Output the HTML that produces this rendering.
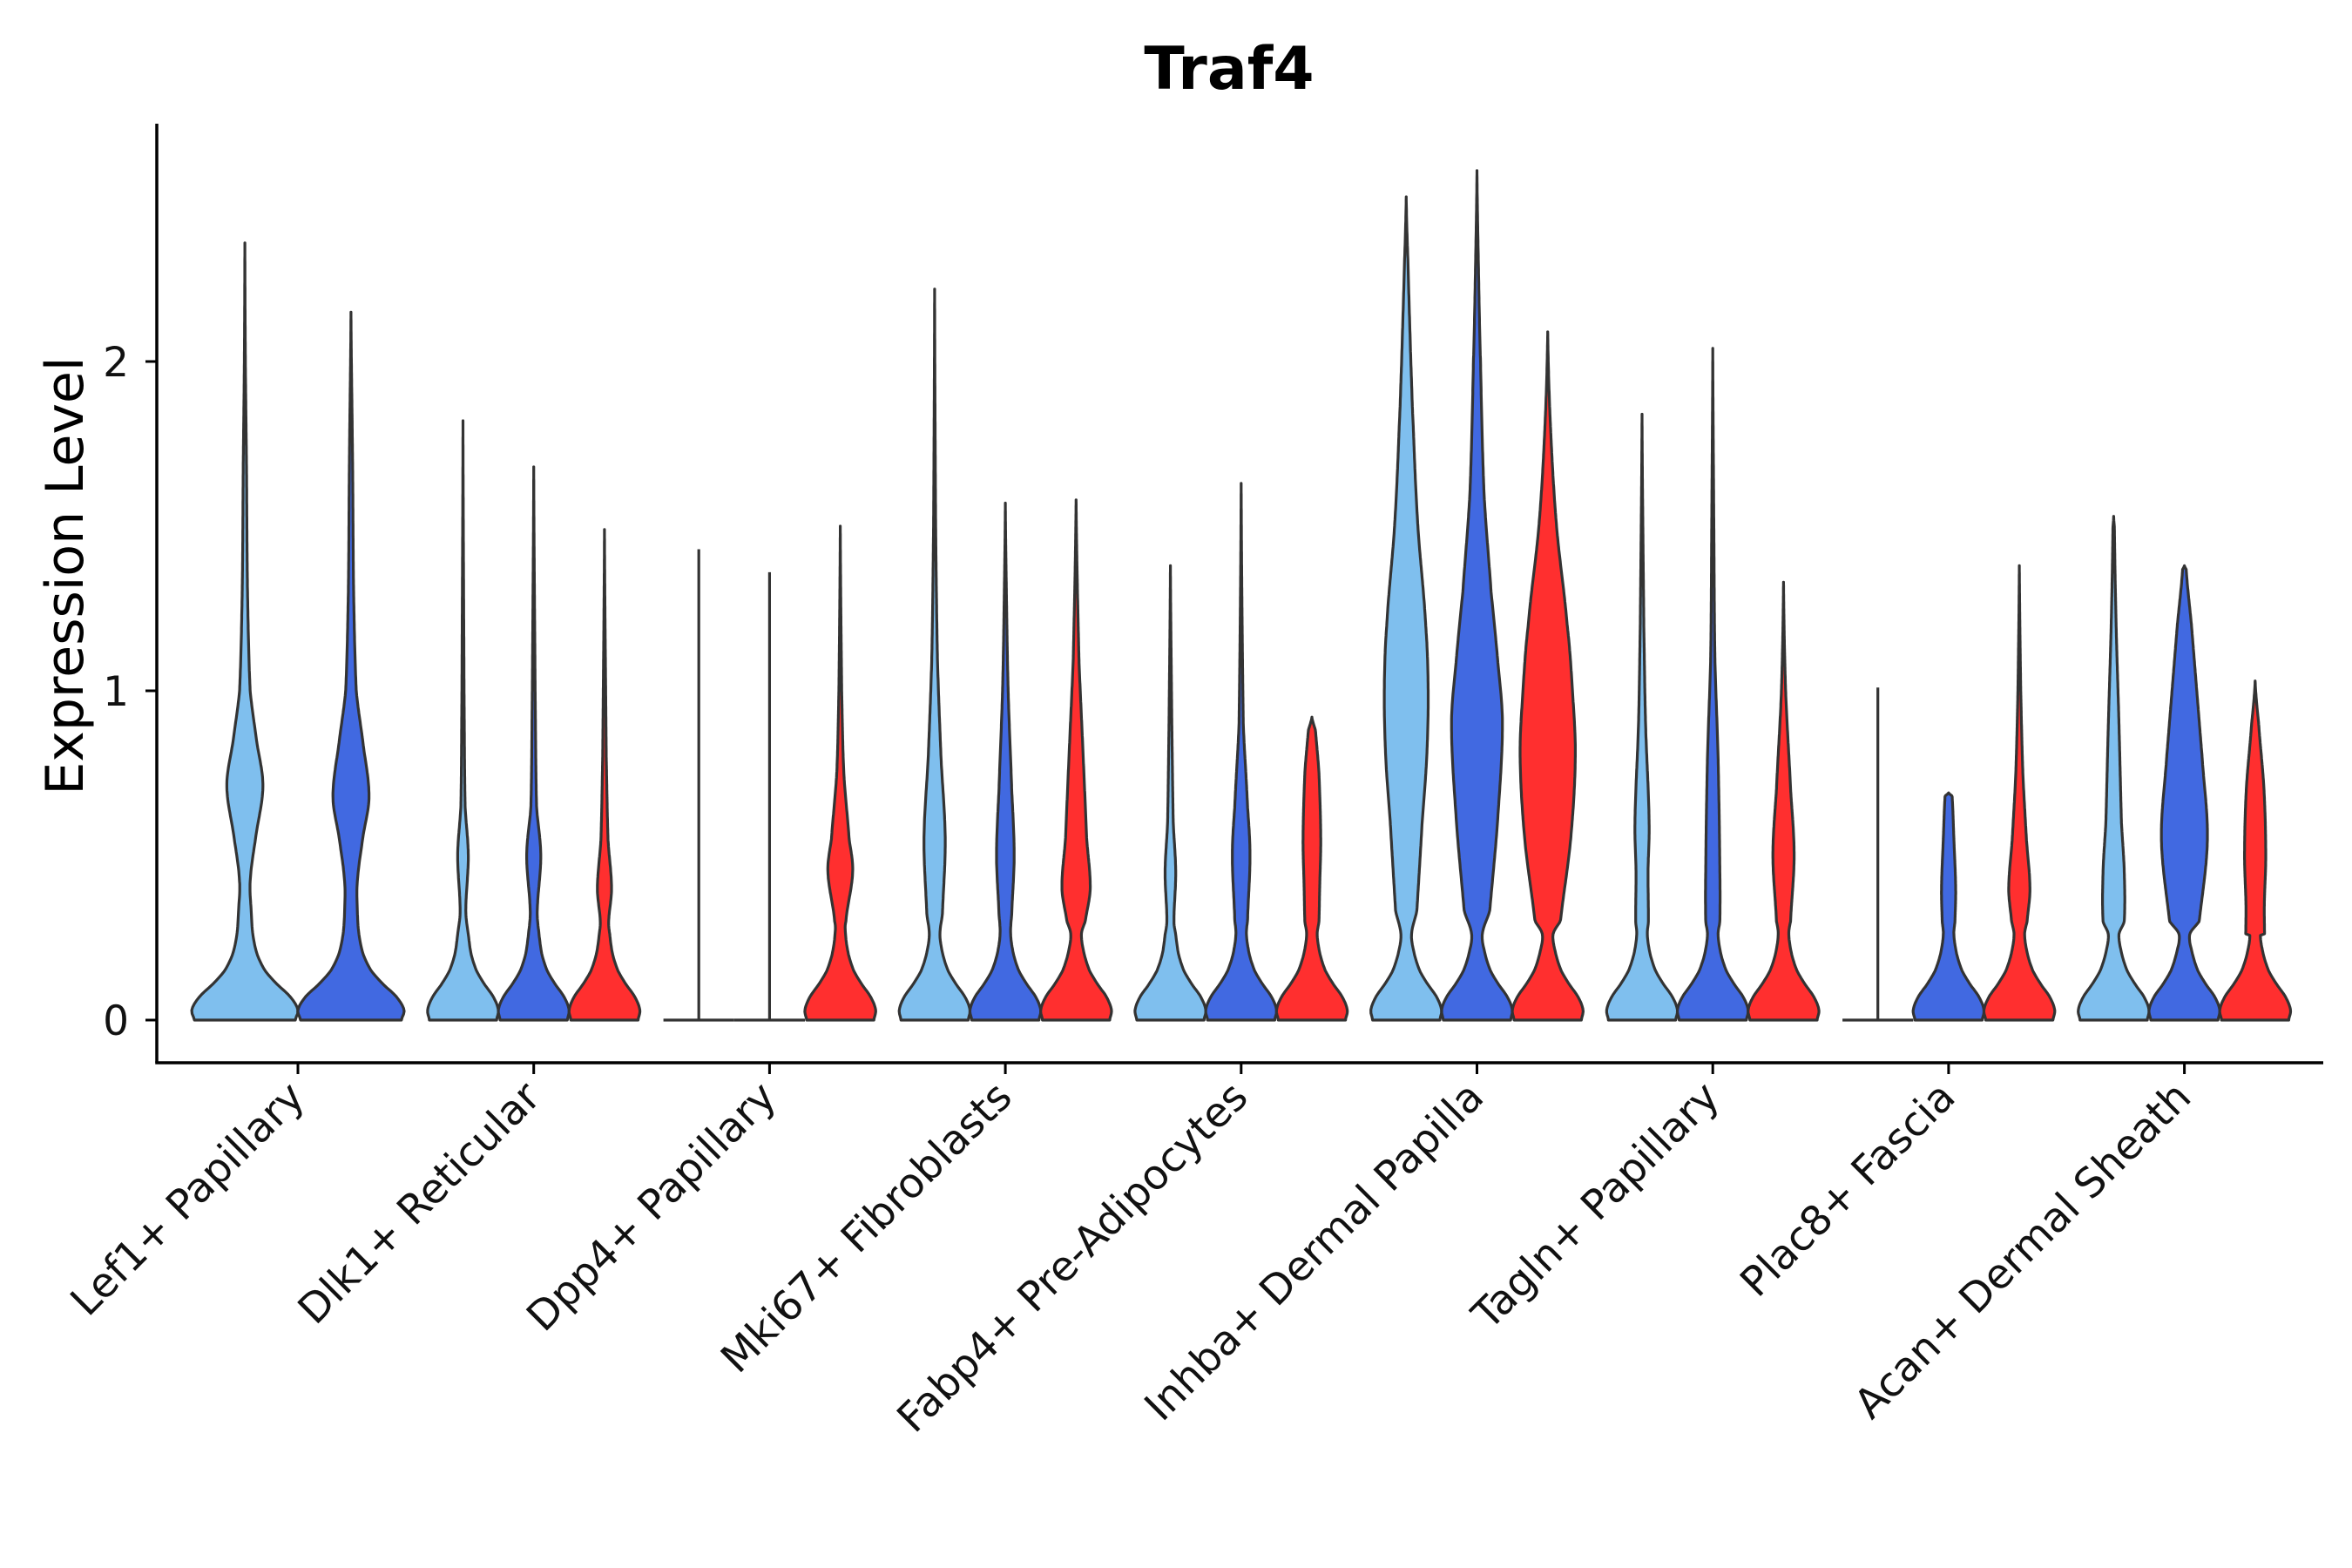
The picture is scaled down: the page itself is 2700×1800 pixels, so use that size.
<!DOCTYPE html>
<html><head><meta charset="utf-8"><style>
html,body{margin:0;padding:0;background:#fff;}
svg{display:block;font-family:"DejaVu Sans","Liberation Sans",sans-serif;}
</style></head><body>
<svg id="chart" width="2700" height="1800" viewBox="0 0 2700 1800">
<text x="1411" y="102" text-anchor="middle" font-size="68" font-weight="bold">Traf4</text>
<g id="plot"></g>
<g id="axes"></g>
<text transform="translate(95,661) rotate(-90)" text-anchor="middle" font-size="60">Expression Level</text>
</svg>
<script>
const categories = ["Lef1+ Papillary","Dlk1+ Reticular","Dpp4+ Papillary","Mki67+ Fibroblasts","Fabp4+ Pre-Adipocytes","Inhba+ Dermal Papilla","Tagln+ Papillary","Plac8+ Fascia","Acan+ Dermal Sheath"];
const yTicks = [0,1,2];
const seriesColors = ["#7fbfee","#4169e1","#ff2f2f"];
const B = [[0,0.95],[0.03,1],[0.07,0.86],[0.11,0.6],[0.15,0.38],[0.2,0.23],[0.26,0.15]];
const violins = [
 [[0,2.36,B.concat([[0.33,0.12],[0.42,0.1],[0.55,0.2],[0.71,0.34],[0.85,0.22],[1.0,0.1],[1.3,0.05],[1.7,0.03],[2.0,0.01]])],
  [1,2.15,B.concat([[0.33,0.12],[0.42,0.12],[0.55,0.22],[0.68,0.34],[0.85,0.22],[1.0,0.1],[1.3,0.05],[1.7,0.03]])]],
 [[0,1.82,B.concat([[0.33,0.08],[0.5,0.15],[0.65,0.06],[1.0,0.03]])],
  [1,1.68,B.concat([[0.33,0.1],[0.5,0.2],[0.65,0.08],[1.0,0.04]])],
  [2,1.49,B.concat([[0.3,0.12],[0.4,0.2],[0.55,0.1],[0.8,0.05]])]],
 [[0,1.43,"flat"],[1,1.36,"flat"],
  [2,1.5,B.concat([[0.3,0.16],[0.45,0.35],[0.55,0.25],[0.75,0.1],[1.0,0.04]])]],
 [[0,2.22,B.concat([[0.32,0.22],[0.55,0.3],[0.8,0.18],[1.1,0.08],[1.5,0.03]])],
  [1,1.57,B.concat([[0.32,0.18],[0.5,0.25],[0.7,0.18],[1.0,0.08],[1.3,0.03]])],
  [2,1.58,B.concat([[0.3,0.26],[0.4,0.4],[0.55,0.3],[0.8,0.2],[1.1,0.08]])]],
 [[0,1.38,B.concat([[0.3,0.1],[0.45,0.15],[0.6,0.08],[0.9,0.04]])],
  [1,1.63,B.concat([[0.3,0.18],[0.5,0.25],[0.65,0.18],[0.9,0.06]])],
  [2,0.92,B.concat([[0.3,0.2],[0.4,0.22],[0.55,0.25],[0.75,0.2],[0.88,0.1]])]],
 [[0,2.5,B.concat([[0.33,0.3],[0.6,0.45],[0.8,0.58],[1.0,0.62],[1.2,0.55],[1.5,0.33],[1.8,0.2],[2.0,0.13],[2.3,0.05]])],
  [1,2.58,B.concat([[0.33,0.36],[0.6,0.58],[0.9,0.72],[1.1,0.58],[1.3,0.4],[1.6,0.2],[2.0,0.1],[2.3,0.04]])],
  [2,2.09,B.concat([[0.3,0.36],[0.55,0.65],[0.8,0.78],[1.0,0.7],[1.2,0.55],[1.5,0.25],[1.8,0.08]])]],
 [[0,1.84,B.concat([[0.3,0.18],[0.45,0.17],[0.6,0.2],[0.9,0.1],[1.2,0.05]])],
  [1,2.04,B.concat([[0.3,0.2],[0.45,0.2],[0.8,0.15],[1.1,0.06],[1.5,0.03]])],
  [2,1.33,B.concat([[0.3,0.2],[0.5,0.3],[0.7,0.2],[1.0,0.06]])]],
 [[0,1.01,"flat"],
  [1,0.69,B.concat([[0.3,0.18],[0.4,0.2],[0.55,0.15],[0.68,0.1]])],
  [2,1.38,B.concat([[0.3,0.22],[0.4,0.3],[0.55,0.2],[0.75,0.1],[1.0,0.04]])]],
 [[0,1.53,B.concat([[0.3,0.3],[0.45,0.3],[0.6,0.22],[0.9,0.15],[1.2,0.07],[1.5,0.02]])],
  [1,1.38,B.concat([[0.3,0.42],[0.55,0.65],[0.8,0.5],[1.0,0.35],[1.2,0.2],[1.37,0.05]])],
  [2,1.03,B.concat([[0.2,0.26],[0.35,0.26],[0.5,0.3],[0.7,0.25],[0.9,0.1]])]]
];
const NS="http://www.w3.org/2000/svg";
const X0=180, X1=2667, YT=142, YB=1220;
const xStep=270.7, xStart=342;
function xScale(i){return xStart+i*xStep;}
function yScale(v){return 1171 - v*378;}
function mk(tag,attrs,parent){const e=document.createElementNS(NS,tag);for(const k in attrs)e.setAttribute(k,attrs[k]);parent.appendChild(e);return e;}
function widthAt(knots,v,max){
  const k=knots.concat([[max,0]]);
  for(let i=0;i<k.length-1;i++){
    if(v>=k[i][0]&&v<=k[i+1][0]){
      const t=(v-k[i][0])/(k[i+1][0]-k[i][0]||1);
      const p0=(k[i-1]||k[i])[1], p1=k[i][1], p2=k[i+1][1], p3=(k[i+2]||k[i+1])[1];
      const t2=t*t,t3=t2*t;
      let w=0.5*((2*p1)+(-p0+p2)*t+(2*p0-5*p1+4*p2-p3)*t2+(-p0+3*p1-3*p2+p3)*t3);
      const lo=Math.min(p1,p2), hi=Math.max(p1,p2);
      w=Math.max(lo*0.85,Math.min(hi*1.1,w));
      return Math.max(0,w);
    }
  }
  return 0;
}
const plot=document.getElementById('plot');
violins.forEach((grp,ci)=>{
  const n=grp.length;
  const dw = 0.9/n;
  const half = dw/2*xStep;
  grp.forEach((vio,j)=>{
    const [si,max,knots]=vio;
    const cx = xScale(ci)+(j-(n-1)/2)*dw*xStep;
    let d;
    if(knots==="flat"){
      d=`M${cx-half},${yScale(0)} L${cx+half},${yScale(0)} M${cx},${yScale(0)} L${cx},${yScale(max)}`;
    } else {
      const steps=240, L=[], R=[];
      for(let s=0;s<=steps;s++){
        const v=max*s/steps;
        const w=widthAt(knots,v,max)*half;
        L.push([cx-w,yScale(v)]);R.push([cx+w,yScale(v)]);
      }
      d="M"+R.map(p=>p[0].toFixed(1)+","+p[1].toFixed(1)).join(" L")+" L"+L.reverse().map(p=>p[0].toFixed(1)+","+p[1].toFixed(1)).join(" L")+" Z";
    }
    const p=mk('path',{d:d,fill:seriesColors[si],stroke:"#333",'stroke-width':3.2,'stroke-linejoin':'round'},plot);
    
    
  });
});
const axes=document.getElementById('axes');
const ya=mk('line',{x1:X0,y1:YT,x2:X0,y2:YB,stroke:"#000",'stroke-width':3.5},axes);


const xa=mk('line',{x1:X0-1.75,y1:YB,x2:X1,y2:YB,stroke:"#000",'stroke-width':3.5},axes);


yTicks.forEach(t=>{
  const y=yScale(t);
  const tk=mk('line',{x1:X0-13,y1:y,x2:X0,y2:y,stroke:"#000",'stroke-width':3},axes);
  
  
  const tl=mk('text',{x:148,y:y+17,'text-anchor':'end','font-size':47,fill:'#111'},axes);
  tl.textContent=t;
  
  
});
categories.forEach((c,i)=>{
  const x=xScale(i);
  const tk=mk('line',{x1:x,y1:YB,x2:x,y2:YB+13,stroke:"#000",'stroke-width':3},axes);
  
  
  const tl=mk('text',{transform:`translate(${x+10},${YB+42}) rotate(-45)`,'text-anchor':'end','font-size':47,fill:'#111'},axes);
  tl.textContent=c;
  
  
});
</script>
</body></html>
